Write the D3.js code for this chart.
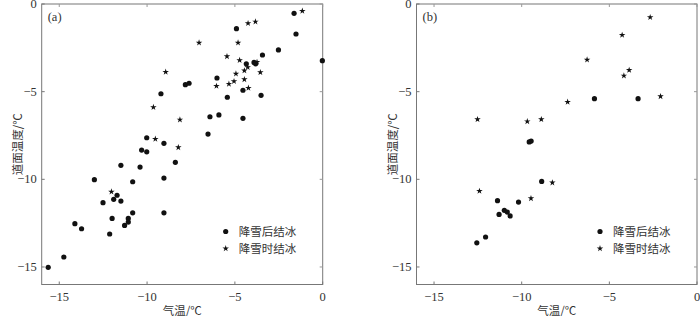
<!DOCTYPE html>
<html lang="zh">
<head>
<meta charset="UTF-8">
<title>气温与道面温度</title>
<script src="https://d3js.org/d3.v7.min.js"></script>
<style>
  body { margin: 0; background: #fff; }
  svg { display: block; }
  .tick-label { font-family: "Liberation Serif", "DejaVu Serif", serif; font-size: 12.5px; fill: #333; }
  .cjk { font-family: "Noto Sans CJK SC", sans-serif; font-size: 11.5px; fill: #333; }
</style>
</head>
<body>
<svg id="chart" width="700" height="316"></svg>
<script>
// 气温 / 道面温度 (℃) — (a) 全部样本
const aAfter = [
  [-1.63,-0.53],[-1.52,-1.71],[-4.91,-1.41],[-0.02,-3.23],[-2.52,-2.62],[-3.43,-2.91],
  [-4.35,-3.41],[-3.91,-3.33],[-3.82,-3.41],[-6.02,-4.22],[-4.54,-4.92],[-5.43,-5.32],
  [-3.51,-5.21],[-7.82,-4.60],[-7.61,-4.52],[-9.21,-5.12],[-6.42,-6.43],[-5.91,-6.33],
  [-4.54,-6.52],[-6.53,-7.42],[-10.02,-7.63],[-9.04,-7.95],[-10.31,-8.33],[-10.02,-8.43],
  [-11.49,-9.20],[-10.40,-9.30],[-8.39,-9.03],[-13.0,-10.02],[-10.82,-10.14],[-9.04,-9.93],
  [-11.71,-10.91],[-11.90,-11.14],[-11.49,-11.24],[-12.51,-11.33],[-10.82,-11.91],[-9.04,-11.91],
  [-11.99,-12.23],[-11.07,-12.23],[-11.07,-12.44],[-11.28,-12.63],[-12.13,-13.12],
  [-14.11,-12.53],[-13.73,-12.82],[-14.74,-14.43],[-15.63,-15.02]
];
const aDuring = [
  [-1.16,-0.40],[-4.25,-1.10],[-3.83,-1.01],[-7.04,-2.21],[-4.82,-2.21],[-5.45,-2.99],
  [-4.73,-3.21],[-4.27,-3.61],[-3.74,-3.31],[-3.55,-3.90],[-4.46,-3.80],[-4.94,-3.98],
  [-5.05,-4.41],[-5.34,-4.56],[-6.05,-4.68],[-4.46,-4.30],[-4.23,-4.79],[-8.94,-3.88],
  [-9.64,-5.89],[-8.13,-6.60],[-9.53,-7.70],[-8.22,-8.18],[-12.03,-10.71]
];
// (b)
const bAfter = [
  [-5.85,-5.40],[-3.36,-5.40],[-9.57,-7.87],[-9.46,-7.82],[-8.86,-10.12],[-11.38,-11.22],
  [-10.18,-11.30],[-11.29,-12.00],[-10.99,-11.77],[-10.82,-11.87],[-10.66,-12.09],
  [-12.06,-13.29],[-12.56,-13.62]
];
const bDuring = [
  [-2.67,-0.76],[-4.27,-1.77],[-6.27,-3.18],[-3.87,-3.77],[-4.17,-4.09],[-2.08,-5.27],
  [-7.38,-5.59],[-12.52,-6.58],[-9.68,-6.70],[-8.88,-6.58],[-8.25,-10.19],[-12.41,-10.67],
  [-9.47,-11.09]
];
const tickValues = [-15, -10, -5, 0];
const legendNames = ["降雪后结冰", "降雪时结冰"];

const svg = d3.select("#chart");
const star = d3.symbol().type(d3.symbolStar).size(13);

function drawPanel(p) {
  const x = d3.scaleLinear().domain([-16, 0]).range([p.left, p.right]);
  const y = d3.scaleLinear().domain([-16, 0]).range([p.bottom, p.top]);
  const g = svg.append("g");

  // 边框
  g.append("rect")
    .attr("x", p.left).attr("y", p.top)
    .attr("width", p.right - p.left).attr("height", p.bottom - p.top)
    .attr("fill", "none").attr("stroke", "#777").attr("stroke-width", 1);

  // 刻度 (朝内)
  const tl = 3;
  tickValues.forEach(v => {
    g.append("line").attr("x1", x(v)).attr("x2", x(v)).attr("y1", p.bottom).attr("y2", p.bottom - tl).attr("stroke", "#777");
    g.append("line").attr("x1", x(v)).attr("x2", x(v)).attr("y1", p.top).attr("y2", p.top + tl).attr("stroke", "#999");
    g.append("line").attr("y1", y(v)).attr("y2", y(v)).attr("x1", p.left).attr("x2", p.left + tl).attr("stroke", "#777");
    g.append("line").attr("y1", y(v)).attr("y2", y(v)).attr("x1", p.right).attr("x2", p.right - tl).attr("stroke", "#999");
  });
  const fmt = d3.format("d");
  g.selectAll(".xl").data(tickValues).enter().append("text")
    .attr("class", "tick-label")
    .attr("x", d => x(d)).attr("y", p.bottom + 16)
    .attr("text-anchor", "middle")
    .text(d => fmt(d));
  g.selectAll(".yl").data(tickValues).enter().append("text")
    .attr("class", "tick-label")
    .attr("x", p.left - 5).attr("y", d => y(d) + 4)
    .attr("text-anchor", "end")
    .text(d => fmt(d));

  // 轴标题
  g.append("text").attr("class", "cjk")
    .attr("x", (p.left + p.right) / 2).attr("y", p.bottom + 30)
    .attr("text-anchor", "middle").text("气温/℃");
  g.append("text").attr("class", "cjk")
    .attr("transform", `translate(${p.left - 20},${(p.top + p.bottom) / 2}) rotate(-90)`)
    .attr("text-anchor", "middle").text("道面温度/℃");

  g.append("text").attr("class", "tick-label")
    .attr("x", p.left + 6).attr("y", p.top + 17)
    .text(p.label);

  // 数据点
  g.selectAll(".after").data(p.after).enter().append("circle")
    .attr("cx", d => x(d[0])).attr("cy", d => y(d[1]))
    .attr("r", 2.6).attr("fill", "#111");
  g.selectAll(".during").data(p.during).enter().append("path")
    .attr("d", star)
    .attr("transform", d => `translate(${x(d[0])},${y(d[1])})`)
    .attr("fill", "#111");

  // 图例
  const lx = p.right - 97, ly = p.bottom - 53;
  g.append("circle").attr("cx", lx).attr("cy", ly).attr("r", 2.6).attr("fill", "#111");
  g.append("path").attr("d", star).attr("transform", `translate(${lx},${ly + 17})`).attr("fill", "#111");
  legendNames.forEach((n, i) => {
    g.append("text").attr("class", "cjk")
      .attr("x", lx + 13).attr("y", ly + i * 17 + 4).text(n);
  });
}

drawPanel({ left: 41.7, right: 322.7, top: 4, bottom: 284.5, label: "(a)", after: aAfter, during: aDuring });
drawPanel({ left: 416.5, right: 697, top: 4, bottom: 284.5, label: "(b)", after: bAfter, during: bDuring });
</script>
</body>
</html>
